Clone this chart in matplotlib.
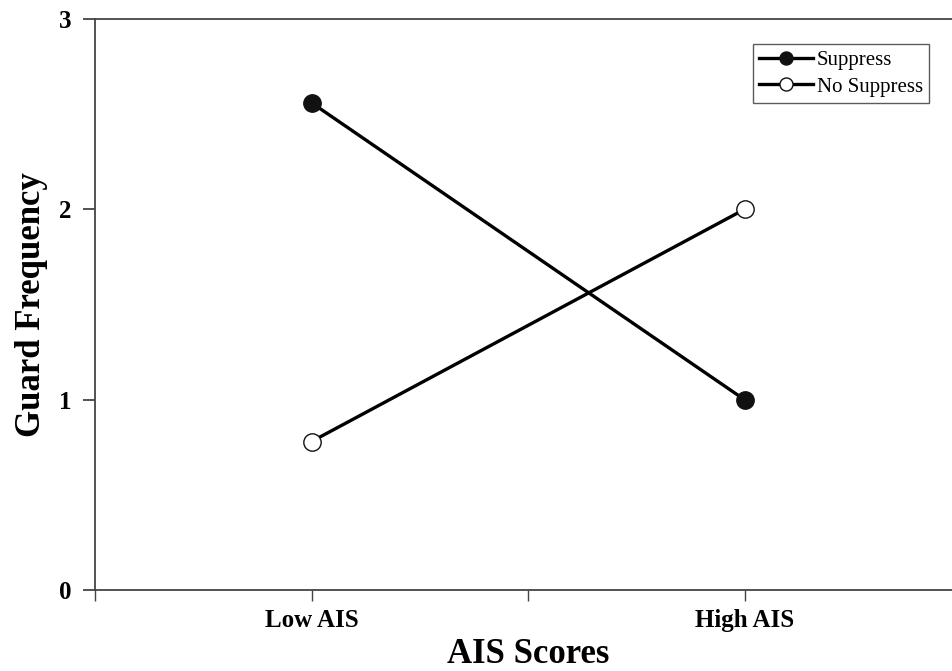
import matplotlib
matplotlib.use("Agg")
import matplotlib.pyplot as plt

groups = ["Low AIS", "High AIS"]
group_pos = [1, 3]
suppress = [2.56, 1.0]
no_suppress = [0.78, 2.0]

plt.rcParams['font.family'] = ['Liberation Serif', 'DejaVu Serif']

fig = plt.figure(figsize=(9.53, 6.71), dpi=100)
ax = fig.add_axes([95 / 953, 1 - 590 / 671, 866 / 953, 571 / 671])

ax.plot(group_pos, suppress, color='black', lw=2.4, marker='o', markersize=12.5,
        markerfacecolor='#111111', markeredgecolor='#111111', label='Suppress')
ax.plot(group_pos, no_suppress, color='black', lw=2.4, marker='o', markersize=12.5,
        markerfacecolor='white', markeredgecolor='#111111', markeredgewidth=1.0,
        label='No Suppress')

ax.set_xlim(0, 4)
ax.set_ylim(0, 3)
ax.set_xticks([0, 1, 2, 3, 4])
ax.set_xticklabels(['', groups[0], '', groups[1], ''])
ax.set_yticks([0, 1, 2, 3])

for sp in ['left', 'bottom', 'top', 'right']:
    ax.spines[sp].set_color('#444444')
    ax.spines[sp].set_linewidth(1.3)

ax.tick_params(axis='y', direction='out', length=9, width=1.3, color='#444444',
               labelsize=18, pad=8)
ax.tick_params(axis='x', direction='out', length=8, width=1.0, color='#444444',
               labelsize=18, pad=6)
for lab in ax.get_xticklabels() + ax.get_yticklabels():
    lab.set_fontweight('bold')

ax.set_xlabel('AIS Scores', fontsize=25, fontweight='bold', labelpad=4)
ax.set_ylabel('Guard Frequency', fontsize=25, fontweight='bold', labelpad=8)

leg = ax.legend(loc='upper right', bbox_to_anchor=(929 / 953, 1 - 44 / 671),
                bbox_transform=fig.transFigure, fontsize=15, frameon=True,
                fancybox=False, handlelength=2.6, handletextpad=0.15,
                borderpad=0.3, labelspacing=0.35, borderaxespad=0,
                markerscale=0.75)
leg.get_frame().set_edgecolor('#333333')
leg.get_frame().set_linewidth(1.0)

fig.savefig('out.png', dpi=100)
